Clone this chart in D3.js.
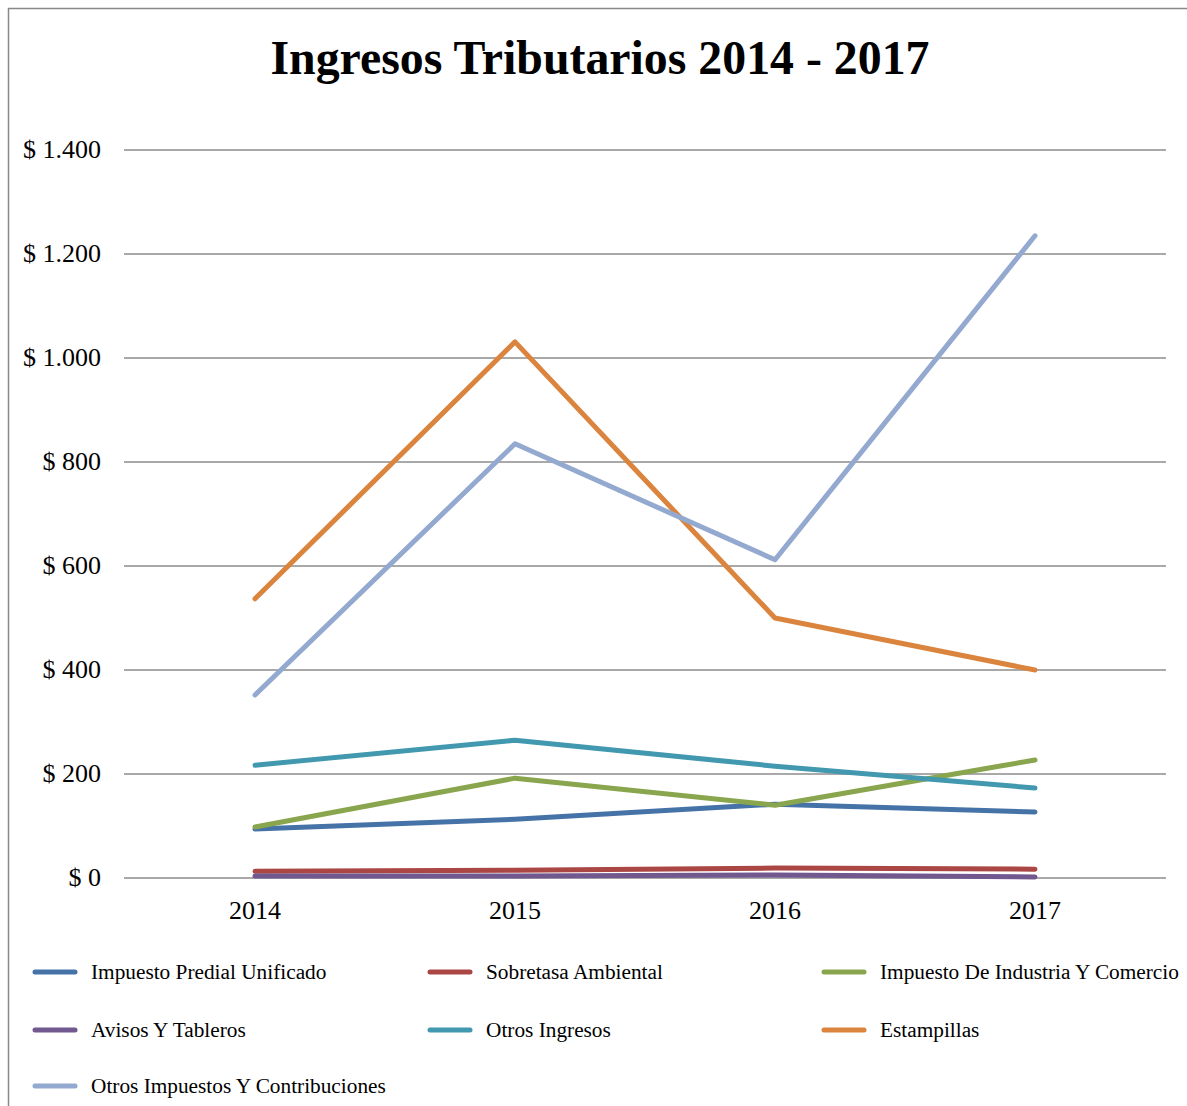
<!DOCTYPE html>
<html><head><meta charset="utf-8">
<script src="https://cdn.jsdelivr.net/npm/d3@7"></script>
<style>body{margin:0;background:#fff}</style>
</head><body>
<svg id="chart" width="1187" height="1106"></svg>
<script>
const years = ["2014","2015","2016","2017"];
const seriesNames = ["Impuesto Predial Unificado","Sobretasa Ambiental","Impuesto De Industria Y Comercio","Avisos Y Tableros","Otros Ingresos","Estampillas","Otros Impuestos Y Contribuciones"];
const predial = [94,113,142,127];
const sobretasa = [13,15,19,17];
const industria = [98,192,140,227];
const avisos = [4,4,6,2];
const otrosIngresos = [217,265,215,173];
const estampillas = [537,1031,500,400];
const otrosImpuestos = [352,835,612,1235];
const yTicks = [0,200,400,600,800,1000,1200,1400];
const colors = ["#4572A7","#AA4643","#89A54E","#71588F","#4198AF","#DB843D","#93A9CF"];
const seriesValues = [predial,sobretasa,industria,avisos,otrosIngresos,estampillas,otrosImpuestos];

const svg = d3.select("#chart");
const font = "'Liberation Serif','Times New Roman',serif";
svg.append("rect").attr("x",8.5).attr("y",8.5).attr("width",1190).attr("height",1110)
  .attr("fill","#fff").attr("stroke","#888").attr("stroke-width",1.5);

svg.append("text").attr("x",600).attr("y",74).attr("text-anchor","middle")
  .attr("font-family",font).attr("font-weight","bold").attr("font-size",48)
  .attr("textLength",659).attr("lengthAdjust","spacingAndGlyphs").text("Ingresos Tributarios 2014 - 2017");

const x = d3.scalePoint().domain(years).range([255,1035]);
const y = d3.scaleLinear().domain([0,1400]).range([878,150]);
const fmt = v => "$ " + d3.format(",")(v).replace(/,/g,".");

const g = svg.append("g");
g.selectAll("line.grid").data(yTicks).enter().append("line")
  .attr("x1",124).attr("x2",1166).attr("y1",d=>y(d)).attr("y2",d=>y(d))
  .attr("stroke","#8c8c8c").attr("stroke-width",1.5);
g.selectAll("text.yl").data(yTicks).enter().append("text")
  .attr("x",101).attr("y",d=>y(d)+8).attr("text-anchor","end")
  .attr("font-family",font).attr("font-size",26).text(fmt);
g.selectAll("text.xl").data(years).enter().append("text")
  .attr("x",d=>x(d)).attr("y",919).attr("text-anchor","middle")
  .attr("font-family",font).attr("font-size",26).text(d=>d);

const line = d3.line().x((d,i)=>x(years[i])).y(d=>y(d));
seriesValues.forEach((vals,i)=>{
  svg.append("path").datum(vals).attr("d",line).attr("fill","none")
    .attr("stroke",colors[i]).attr("stroke-width",5).attr("stroke-linecap","round").attr("stroke-linejoin","round");
});

const legX = [33,428,822];
const legY = [972,1030,1086];
seriesNames.forEach((n,i)=>{
  const lx = legX[i%3], ly = legY[Math.floor(i/3)];
  svg.append("line").attr("x1",lx+2).attr("x2",lx+42).attr("y1",ly).attr("y2",ly)
    .attr("stroke",colors[i]).attr("stroke-width",5).attr("stroke-linecap","round");
  svg.append("text").attr("x",lx+58).attr("y",ly+7).attr("font-family",font).attr("font-size",21.3).text(n);
});
</script>
</body></html>
